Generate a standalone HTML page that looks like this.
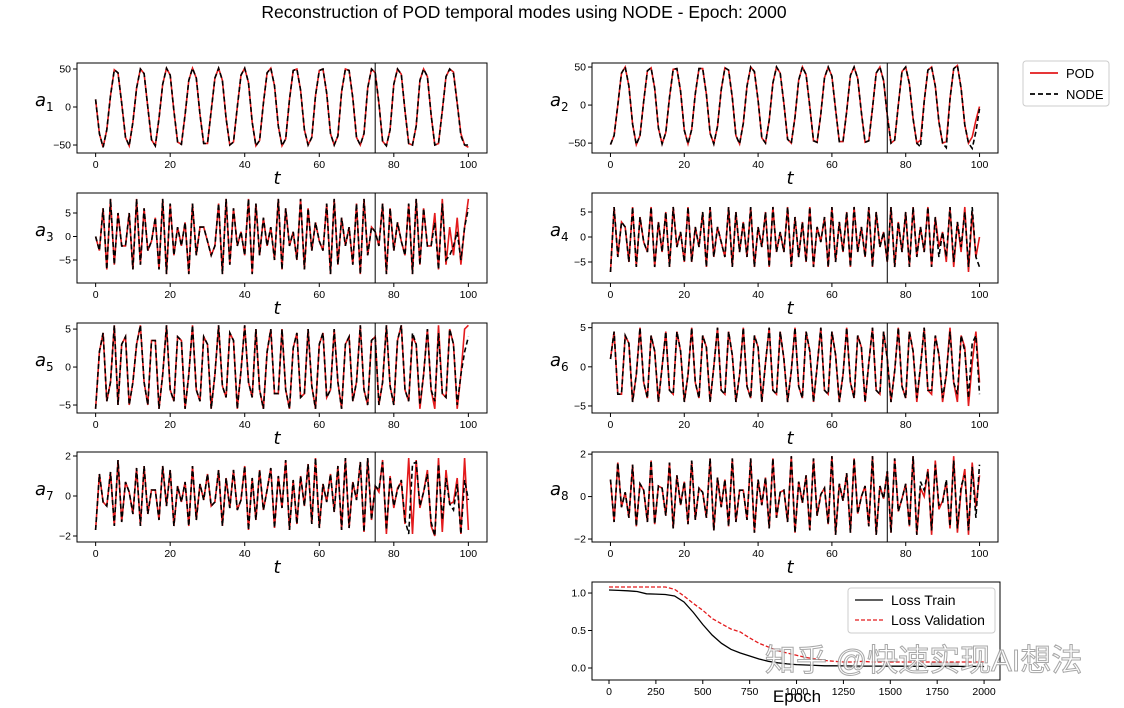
<!DOCTYPE html>
<html><head><meta charset="utf-8"><style>
body{margin:0;background:#fff;width:1124px;height:708px;overflow:hidden}
svg{display:block;font-family:"Liberation Sans","DejaVu Sans",sans-serif}
</style></head><body>
<svg id="fig" width="1124" height="708" viewBox="0 0 1124 708">
<text x="524" y="18" font-size="17.5" text-anchor="middle" fill="#000">Reconstruction of POD temporal modes using NODE - Epoch:  2000</text>
<g>
<rect x="1023" y="61" width="86" height="45" rx="3" fill="#fff" stroke="#ccc"/>
<line x1="1030" y1="73" x2="1058" y2="73" stroke="#e31a1c" stroke-width="1.8"/>
<text x="1066" y="78" font-size="13">POD</text>
<line x1="1030" y1="94" x2="1058" y2="94" stroke="#000" stroke-width="1.8" stroke-dasharray="5,3"/>
<text x="1066" y="99" font-size="13">NODE</text>
</g>
</svg>
<script>
const tVals=[];for(let i=0;i<=100;i++)tVals.push(i);
const a1=[10,-35,-53,-30,15,49,45,5,-40,-51,-20,25,50,44,0,-43,-51,-15,30,51,42,-5,-46,-49,-10,35,51,38,-10,-48,-48,-5,38,51,35,-15,-50,-46,0,42,51,32,-20,-51,-44,5,45,51,28,-25,-51,-42,10,48,50,22,-30,-50,-40,15,48,50,18,-35,-50,-38,20,50,48,12,-40,-50,-35,25,50,45,5,-45,-51,-30,30,50,43,-5,-48,-50,-25,35,50,40,-10,-50,-48,-5,40,50,46,5,-35,-50,-53];
const a1Node=[45,5,-45,-51,-30,30,50,43,-5,-48,-50,-25,35,50,40,-10,-50,-48,-5,40,50,44,5,-38,-50,-50];
const a2=[-52,-40,0,42,50,25,-25,-52,-40,5,45,49,22,-30,-51,-36,10,47,48,18,-33,-51,-32,15,48,48,14,-37,-51,-28,20,49,46,10,-40,-51,-24,25,50,44,6,-43,-50,-20,29,50,42,2,-45,-50,-16,33,50,40,-2,-47,-49,-12,36,50,38,-6,-48,-48,-8,39,50,35,-10,-49,-47,-4,42,50,32,-14,-50,-46,0,44,50,28,-18,-50,-46,5,46,50,25,-22,-50,-48,8,48,52,22,-26,-50,-42,-20,-2];
const a2Node=[-14,-50,-46,0,44,50,28,-18,-50,-55,5,46,50,25,-22,-50,-56,8,48,52,22,-26,-50,-57,-35,-5];
const a3=[0,-3,6,-7,8,-6,5,-2,-2,5,-7,8,-6,6,-3,-1,4,-7,8,-8,7,-4,2,-2,3,-8,7,-4,2,2,-1,-4,-2,7,-8,8,-6,6,-2,1,-4,8,-8,7,-4,4,-2,2,-5,8,-7,6,-2,1,-5,8,-7,6,-3,3,-1,-3,7,-8,8,-6,4,-2,2,-6,7,-8,8,-4,2,1,-2,7,-8,6,-3,3,-1,-4,7,-8,8,-6,6,-2,-2,5,-7,8,-6,2,-4,4,-6,2,8];
const a3Node=[1,-2,7,-8,6,-3,3,-1,-4,7,-8,8,-6,6,-2,-2,3,-7,7,-5,-4,-2,1,-5,2,6];
const a4=[-7,6,-4,3,2,-5,6,-6,4,-1,-3,6,-6,3,-3,5,-6,6,-2,1,-5,6,-5,2,-2,5,-6,6,-4,2,-1,-4,6,-6,5,-3,3,-4,6,-6,2,-2,5,-6,6,-3,1,-3,6,-6,4,-4,3,-5,6,-6,2,-1,4,-6,6,-5,3,-3,5,-6,6,-3,2,-4,6,-6,5,-2,1,-5,6,-6,3,-3,5,-6,6,-4,2,-3,6,-6,4,-2,1,-5,6,-6,3,-3,6,-7,5,-4,0];
const a4Node=[-5,6,-6,3,-3,5,-6,6,-4,2,-3,6,-6,4,-4,1,-4,6,-5,3,-2,5,-6,6,-4,-6];
const a5=[-5.5,2,4.5,-4.5,-2,5.5,-5,3,4,-5,-2,3,5.5,-2,-5,3.5,3.5,-5.5,-1,5.5,-3,-4.5,4,3.5,-5.5,-1,5.5,-3,-4.5,4,3,-5.5,-1,5.5,-2.5,-4,4.5,3.5,-5.5,-0.5,5.5,-2,-4,5,-3,-5.5,2,5,-3.5,-3.5,5,-3,-5.5,2.5,4.5,-4,-3.5,5,-2.5,-5.5,3,4.5,-4,-3,5,-2,-5.5,3,4,-4.5,-2,5.5,-3,-5,3.5,4,-5,-2,5.5,-2.5,-5,3.5,5.5,-3,-4.5,4,3,-5.5,-1,5,-3,-5.5,5.5,-3.5,-4,5,3,-5.5,-1,5,5.5];
const a5Node=[4,-5,-2,5.5,-2.5,-5,3.5,5.5,-3,-4.5,4.5,3,-5,-1,5,-3,-4.5,4.5,-3.5,-4,5,3,-5,-1,2,4];
const a6=[1,4.5,-3.5,-3.5,4,3,-4.5,-1,5,-2,-4,4,2,-4.5,0,4.5,-3,-3.5,4.5,2,-4.5,-1,5,-2,-4,4,2.5,-4.5,0,5,-3,-3.5,4.5,1.5,-4.5,-1,5,-2.5,-4,4,2.5,-4.5,0.5,5,-3,-3.5,4.5,1,-4.5,-0.5,5,-2.5,-4,4.5,2,-4.5,0,5,-3,-3.5,4.5,1.5,-4.5,-1,5,-2,-4,4,2.5,-4.5,0.5,5,-3,-3.5,4.5,1,-4.5,-0.5,5,-2.5,-4,4.5,2,-4.5,0,5,-3,-3.5,4,1.5,-4.5,-1,5,-2,-4.5,4,2.5,-5,0.5,4.5,-2];
const a6Node=[1,-4.5,-0.5,5,-2.5,-4,4.5,2,-4,0,5,-3,-3,4,1.5,-4,-1,4.5,-2,-3.5,4,2,-4,3,4,-3.5];
const a7=[-1.7,1.1,-0.3,-0.5,1.2,-1.5,1.8,-1.3,0.7,0.2,-0.9,1.4,-1.5,1.5,-0.9,0.3,0.3,-1.2,1.5,-0.5,1.3,-1.5,0.5,-0.3,0.7,-1.5,1.5,-1.2,0.6,-0.2,1.1,-0.5,-0.3,1.3,-1.5,0.9,-0.6,1.3,-0.7,-0.2,1.5,-1.7,0.9,-1.2,1.3,-0.7,0.3,1.4,-1.6,1.0,-0.6,1.8,-1.7,0.8,-1.4,1.0,-0.5,1.6,-1.4,1.9,-1.6,0.6,-0.3,1.1,-0.8,1.5,-1.7,1.9,-1.6,0.7,-0.2,1.7,-1.8,1.9,-1.2,0.5,0.2,1.8,-1.9,1.0,-0.6,0.4,0.7,-1.4,1.9,-1.9,1.8,-0.6,0.2,1.3,-1.5,-2.0,1.9,-1.8,1.3,-0.4,-0.3,0.9,-1.9,1.9,-1.7];
const a7Node=[0.5,0.3,1.7,-1.7,0.9,-0.5,0.3,0.8,-1.2,-1.9,1.6,1.7,-0.5,0.2,1.1,-1.3,-2.0,1.6,-1.2,0.9,-0.4,-0.7,0.6,-1.9,0.8,-0.2];
const a8=[0.8,-1.2,1.6,-0.5,0.2,-1.0,1.5,-1.4,0.6,0.3,-1.2,1.7,-1.3,0.5,0.4,-0.9,1.6,-1.5,1.0,-0.4,0.7,-1.3,1.7,-1.1,0.4,0.2,-1.0,1.8,-1.6,0.9,-0.5,0.8,-1.4,1.8,-1.2,0.3,0.3,-1.1,1.8,-1.7,0.8,-0.4,0.9,-1.5,1.8,-1.0,0.2,0.3,-1.2,1.9,-1.7,0.7,-0.3,1.0,-1.6,1.8,-0.9,0.1,0.4,-1.3,1.9,-1.8,0.6,-0.2,1.1,-1.7,1.8,-0.8,0.0,0.5,-1.4,1.9,-1.8,0.5,-0.1,1.2,-1.7,1.8,-0.7,-0.1,0.6,-1.4,1.9,-1.8,0.4,0.0,1.3,-1.8,1.7,-0.6,-0.2,0.7,-1.5,1.9,-1.7,0.3,1.3,-1.8,1.6,-0.5,1.0];
const a8Node=[1.2,-1.7,1.8,-0.7,-0.1,0.6,-1.4,1.9,-1.8,0.7,0.3,1.2,-1.6,1.5,-0.4,-0.3,0.8,-1.4,1.7,-1.5,0.5,1.0,-1.6,1.4,-1.0,1.5];
const xTicks=[0,20,40,60,80,100];
const lossEpochs=[];for(let e=0;e<=2000;e+=50)lossEpochs.push(e);
const lossTrain=[1.04,1.035,1.03,1.02,0.99,0.985,0.98,0.96,0.88,0.74,0.58,0.44,0.33,0.25,0.2,0.16,0.12,0.09,0.07,0.055,0.045,0.04,0.035,0.03,0.03,0.028,0.027,0.026,0.025,0.025,0.024,0.024,0.023,0.023,0.022,0.022,0.022,0.021,0.021,0.021,0.02];
const lossVal=[1.08,1.08,1.08,1.08,1.08,1.08,1.08,1.05,0.96,0.86,0.77,0.66,0.59,0.52,0.48,0.4,0.33,0.28,0.23,0.2,0.17,0.14,0.12,0.1,0.09,0.08,0.08,0.09,0.08,0.08,0.08,0.08,0.08,0.08,0.08,0.08,0.08,0.08,0.08,0.08,0.08];
const lossXTicks=[0,250,500,750,1000,1250,1500,1750,2000];
const lossYTicks=[0.0,0.5,1.0];

const NS="http://www.w3.org/2000/svg";
const svg=document.getElementById('fig');
function mk(tag,attrs,parent){const e=document.createElementNS(NS,tag);for(const k in attrs)e.setAttribute(k,attrs[k]);(parent||svg).appendChild(e);return e;}
function path(xs,ys,sx,sy){return xs.map((x,i)=>(i?'L':'M')+sx(x).toFixed(1)+','+sy(ys[i]).toFixed(1)).join('');}

function panel(name,box,yr,yTicks,pod,nodeTail,sub){
  const [x0,y0,x1,y1]=box;
  const g=mk('g',{});
  
  
  const sx=t=>x0+(t+5)/110*(x1-x0);
  const sy=v=>y1-(v-yr[0])/(yr[1]-yr[0])*(y1-y0);
  const clipId='c'+name;
  const cp=mk('clipPath',{id:clipId},g);mk('rect',{x:x0,y:y0,width:x1-x0,height:y1-y0},cp);
  const node=pod.slice(0,75).concat(nodeTail);
  const ts=tVals.slice(0,pod.length);
  const pl=mk('path',{d:path(ts,pod,sx,sy),fill:'none',stroke:'#e31a1c','stroke-width':1.6,'clip-path':'url(#'+clipId+')'},g);
  
  
  const nl=mk('path',{d:path(tVals.slice(0,node.length),node,sx,sy),fill:'none',stroke:'#000','stroke-width':1.6,'stroke-dasharray':'5,3','clip-path':'url(#'+clipId+')'},g);
  
  
  mk('line',{x1:sx(75),x2:sx(75),y1:y0,y2:y1,stroke:'#000','stroke-width':1},g);
  mk('rect',{x:x0,y:y0,width:x1-x0,height:y1-y0,fill:'none',stroke:'#000','stroke-width':1},g);
  xTicks.forEach(t=>{mk('line',{x1:sx(t),x2:sx(t),y1:y1,y2:y1+4,stroke:'#000'},g);
    const tx=mk('text',{x:sx(t),y:y1+15,'font-size':10.5,'text-anchor':'middle'},g);tx.textContent=t;});
  yTicks.forEach(v=>{mk('line',{x1:x0-4,x2:x0,y1:sy(v),y2:sy(v),stroke:'#000'},g);
    const tx=mk('text',{x:x0-6,y:sy(v)+3.5,'font-size':10.5,'text-anchor':'end'},g);tx.textContent=v<0?'\u2212'+(-v):v;});
  const xl=mk('text',{x:(x0+x1)/2-5,y:y1+31,'font-size':18,'font-style':'italic','text-anchor':'middle','font-family':'DejaVu Sans,sans-serif'},g);
  
  
  xl.textContent='t';
  const yl=mk('text',{x:x0-42,y:(y0+y1)/2-2,'font-size':18,'font-style':'italic','font-family':'DejaVu Sans,sans-serif'},g);
  
  
  yl.textContent='a';
  const ys=mk('tspan',{'font-size':12,dy:5,'font-style':'normal'},yl);ys.textContent=sub;
}
const L=[77,487],R=[592,998];
const rows=[[63,153],[193,283],[323,413],[452,542]];
panel('a1',[L[0],rows[0][0],L[1],rows[0][1]],[-60.5,57.9],[-50,0,50],a1,a1Node,'1');
panel('a2',[R[0],rows[0][0],R[1],rows[0][1]],[-63,55.3],[-50,0,50],a2,a2Node,'2');
panel('a3',[L[0],rows[1][0],L[1],rows[1][1]],[-9.9,9.26],[-5,0,5],a3,a3Node,'3');
panel('a4',[R[0],rows[1][0],R[1],rows[1][1]],[-9.2,8.8],[-5,0,5],a4,a4Node,'4');
panel('a5',[L[0],rows[2][0],L[1],rows[2][1]],[-6.05,5.8],[-5,0,5],a5,a5Node,'5');
panel('a6',[R[0],rows[2][0],R[1],rows[2][1]],[-5.9,5.6],[-5,0,5],a6,a6Node,'6');
panel('a7',[L[0],rows[3][0],L[1],rows[3][1]],[-2.3,2.2],[-2,0,2],a7,a7Node,'7');
panel('a8',[R[0],rows[3][0],R[1],rows[3][1]],[-2.14,2.1],[-2,0,2],a8,a8Node,'8');

(function(){
  const x0=592,y0=582,x1=1000,y1=680;
  const g=mk('g',{});
  
  
  const sx=e=>x0+(e+90.7)/(2085+90.7)*(x1-x0);
  const sy=v=>y1-(v+0.16)/(1.147+0.16)*(y1-y0);
  const tr=mk('path',{d:path(lossEpochs,lossTrain,sx,sy),fill:'none',stroke:'#000','stroke-width':1.3},g);
  
  
  const va=mk('path',{d:path(lossEpochs,lossVal,sx,sy),fill:'none',stroke:'#e31a1c','stroke-width':1.3,'stroke-dasharray':'4,2'},g);
  
  
  mk('rect',{x:x0,y:y0,width:x1-x0,height:y1-y0,fill:'none',stroke:'#000'},g);
  lossXTicks.forEach(t=>{mk('line',{x1:sx(t),x2:sx(t),y1:y1,y2:y1+4,stroke:'#000'},g);
    const tx=mk('text',{x:sx(t),y:y1+15,'font-size':10.5,'text-anchor':'middle'},g);tx.textContent=t;});
  lossYTicks.forEach(v=>{mk('line',{x1:x0-4,x2:x0,y1:sy(v),y2:sy(v),stroke:'#000'},g);
    const tx=mk('text',{x:x0-6,y:sy(v)+3.5,'font-size':10.5,'text-anchor':'end'},g);tx.textContent=v.toFixed(1);});
  const xl=mk('text',{x:797,y:702,'font-size':17,'text-anchor':'middle'},g);
  
  
  xl.textContent='Epoch';
  const lg=mk('g',{},g);
  
  
  mk('rect',{x:848,y:588,width:147,height:45,rx:3,fill:'#fff',stroke:'#ccc'},lg);
  mk('line',{x1:855,x2:883,y1:600,y2:600,stroke:'#000','stroke-width':1.3},lg);
  mk('line',{x1:855,x2:883,y1:620,y2:620,stroke:'#e31a1c','stroke-width':1.3,'stroke-dasharray':'4,2'},lg);
  const l1=mk('text',{x:891,y:605,'font-size':14},lg);l1.textContent='Loss Train';
  const l2=mk('text',{x:891,y:625,'font-size':14},lg);l2.textContent='Loss Validation';
})();
const wm=mk('text',{x:765,y:671,'font-size':31,fill:'#fff',stroke:'#999','stroke-width':1,'font-family':'"Liberation Sans","Noto Sans CJK SC",sans-serif',opacity:0.85});


wm.textContent='知乎 @快速实现AI想法';
</script>
</body></html>
